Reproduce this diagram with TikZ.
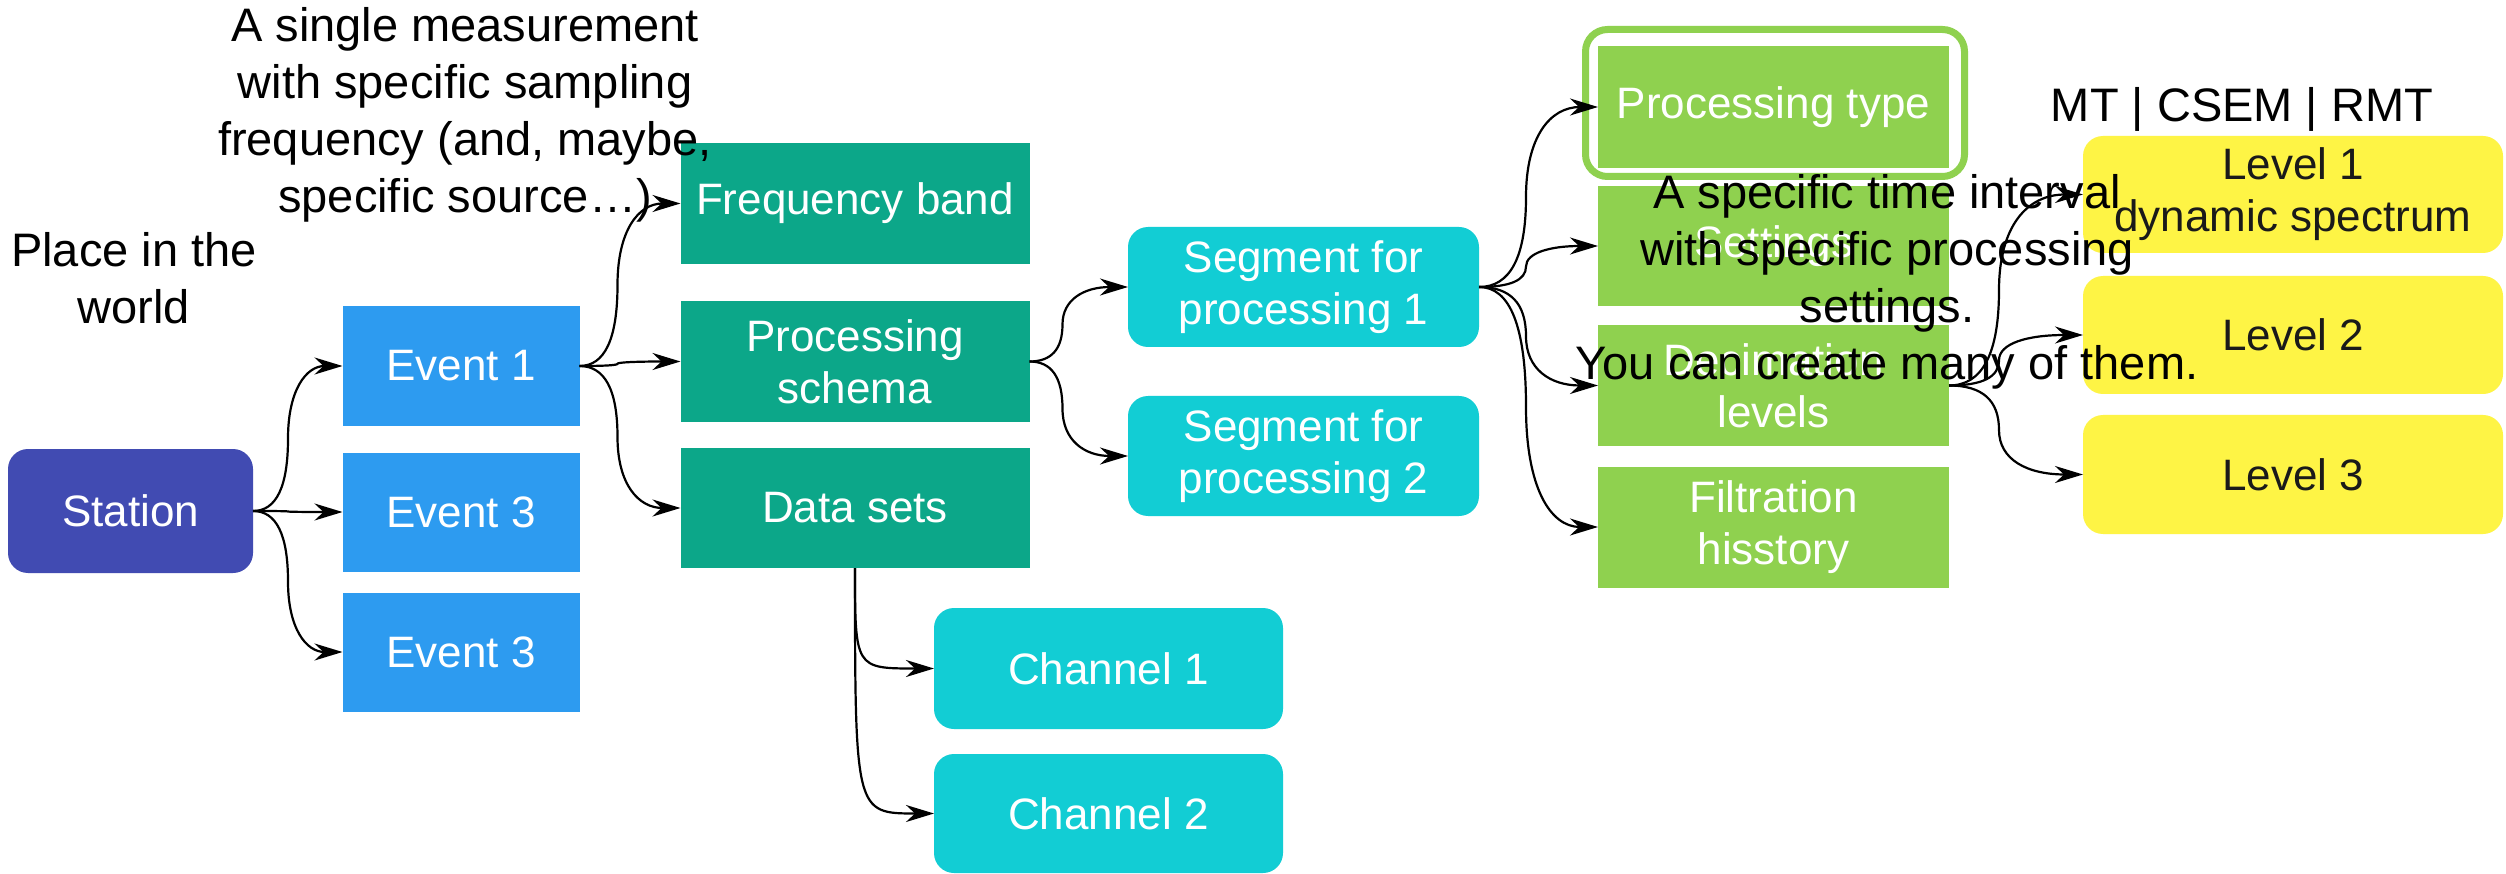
\documentclass[tikz,border=0pt]{standalone}
\usepackage{fontspec}
\setmainfont{Liberation Sans}
\usetikzlibrary{arrows.meta,calc}
\definecolor{cstation}{HTML}{414BB2}
\definecolor{cevent}{HTML}{2D9BF0}
\definecolor{cteal}{HTML}{0CA789}
\definecolor{ccyan}{HTML}{12CDD4}
\definecolor{cgreen}{HTML}{8FD14F}
\definecolor{cyellow}{HTML}{FEF445}
\definecolor{cdark}{HTML}{1A1A1A}
\newcommand\boxfont{\fontsize{44}{52}\selectfont}
\newcommand\annfont{\fontsize{47}{57}\selectfont}
\begin{document}
\begin{tikzpicture}[x=1pt,y=-1pt,
  bx/.style={inner sep=0pt, outer sep=0pt, align=center, text=white, font=\boxfont, minimum width=349pt, minimum height=121pt},
  rbx/.style={bx, rounded corners=20pt},
  ybx/.style={rbx, fill=cyellow, text=cdark, minimum width=420pt},
  gbx/.style={bx, fill=cgreen, minimum width=351pt},
  ann/.style={inner sep=0pt, align=center, font=\annfont, text=black},
  arr/.style={draw=black, line width=2.2pt, -{Stealth[length=28pt,width=17pt,inset=9pt]}},
  fan/.style={to path={let \p1=(\tikztostart), \p2=(\tikztotarget) in
     .. controls ({\x1+2*#1pt/3},\y1) and ({\x1+#1pt},{(5*(\y1)+(\y2))/6}) .. ({\x1+#1pt},{0.5*(\y1)+0.5*(\y2)})
     .. controls ({\x1+#1pt},{((\y1)+5*(\y2))/6}) and ({(\x2)/3+2*(\x1+#1pt)/3},\y2) .. (\p2) \tikztonodes}},
  drop/.style={to path={let \p1=(\tikztostart), \p2=(\tikztotarget) in
     .. controls (\x1,\y2) .. (\p2) \tikztonodes}},
]
\fill[white] (0,0) rectangle (2506,874);
\useasboundingbox (0,0) rectangle (2506,874);

% boxes
\node[rbx, fill=cstation, minimum width=245pt, minimum height=124pt] (st) at (130.5,511) {Station};
\node[bx, fill=cevent, minimum width=237pt, minimum height=119pt] (ev1) at (461,366) {Event 1};
\node[bx, fill=cevent, minimum width=237pt, minimum height=119pt] (ev2) at (461,512) {Event 3};
\node[bx, fill=cevent, minimum width=237pt, minimum height=119pt] (ev3) at (461,652) {Event 3};

\node[bx, fill=cteal] (fb) at (855,203.5) {Frequency band};
\node[bx, fill=cteal] (ps) at (855,361.5) {Processing\\schema};
\node[bx, fill=cteal, minimum height=120pt] (ds) at (855,508) {Data sets};

\node[rbx, fill=ccyan, minimum width=351pt, minimum height=120pt] (sg1) at (1303.5,287) {Segment for\\processing 1};
\node[rbx, fill=ccyan, minimum width=351pt, minimum height=120pt] (sg2) at (1303.5,456) {Segment for\\processing 2};
\node[rbx, fill=ccyan, minimum height=121pt] (ch1) at (1108.5,668.5) {Channel 1};
\node[rbx, fill=ccyan, minimum height=119pt] (ch2) at (1108.5,813.5) {Channel 2};

\node[gbx, minimum height=122pt] (pt) at (1773.5,107) {Processing type};
\node[gbx, minimum height=120pt] (se) at (1773.5,246) {Settings};
\node[gbx, minimum height=121pt] (dl) at (1773.5,385.5) {Decimation\\levels};
\node[gbx, minimum height=121pt] (fh) at (1773.5,527) {Filtration\\hisstory};

\node[ybx, minimum height=117pt] (l1) at (2293,194.5) {Level 1\\dynamic spectrum};
\node[ybx, minimum height=118pt] (l2) at (2293,335) {Level 2};
\node[ybx, minimum height=119pt] (l3) at (2293,474.5) {Level 3};

% highlight ring
\node[draw=cgreen, line width=7pt, rounded corners=22pt, minimum width=379pt, minimum height=147pt, inner sep=0pt] (ring) at (1775,103) {};

% annotations
\node[ann, anchor=north] (a1) at (134,232) {Place in the\\world};
\node[ann, anchor=north] (a2) at (465,7) {A single measurement\\with specific sampling\\frequency (and, maybe,\\specific source…)};
\node[ann, anchor=base] (a3) at (2242,122) {MT | CSEM | RMT};
\node[ann, anchor=north] (a4) at (1887,174) {A specific time interval\\with specific processing\\settings.\\You can create many of them.};

% connectors
\draw[arr] (st.east) to[fan=35] (ev1.west);
\draw[arr] (st.east) to[fan=35] (ev2.west);
\draw[arr] (st.east) to[fan=35] (ev3.west);

\draw[arr] (ev1.east) to[fan=38] (fb.west);
\draw[arr] (ev1.east) to[fan=38] (ps.west);
\draw[arr] (ev1.east) to[fan=38] (ds.west);

\draw[arr] (ps.east) to[fan=33] (sg1.west);
\draw[arr] (ps.east) to[fan=33] (sg2.west);

\draw[arr] (sg1.east) to[fan=47] (pt.west);
\draw[arr] (sg1.east) to[fan=47] (se.west);
\draw[arr] (sg1.east) to[fan=47] (dl.west);
\draw[arr] (sg1.east) to[fan=47] (fh.west);

\draw[arr] (dl.east) to[fan=50] (l1.west);
\draw[arr] (dl.east) to[fan=50] (l2.west);
\draw[arr] (dl.east) to[fan=50] (l3.west);

\draw[arr] (ds.south) to[drop] (ch1.west);
\draw[arr] (ds.south) to[drop] (ch2.west);
\end{tikzpicture}
\end{document}
